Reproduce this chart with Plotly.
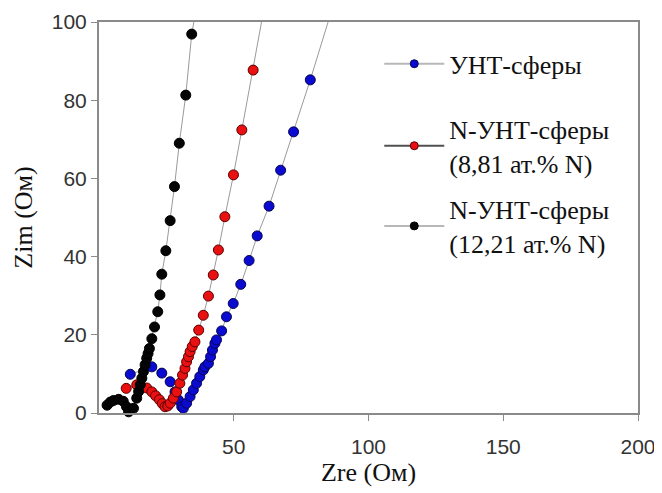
import plotly.graph_objects as go

# ---- data ----
blue_x = [11.6, 19.6, 23.3, 26.4, 28.2, 29.5, 30.7, 31.3, 32.5, 33.8, 35.0, 36.2, 37.4, 38.7,
          39.3, 40.6, 41.4, 42.1, 43.0, 43.6, 45.5, 47.3, 49.8, 52.6, 55.7, 58.7, 63.1, 67.4, 72.2, 78.4]
blue_y = [9.9, 11.8, 10.2, 8.0, 5.4, 3.3, 1.6, 1.2, 2.5, 4.2, 5.9, 7.6, 9.3, 11.0,
          11.8, 12.7, 14.4, 16.1, 17.8, 18.7, 21.0, 24.6, 28.0, 32.9, 39.0, 45.3, 52.9, 62.1, 71.9, 85.2]
blue_line_end = (85.0, 100.0)

red_x = [10.1, 14.0, 17.7, 19.6, 21.0, 22.4, 23.5, 24.5, 25.5, 26.4, 27.6, 28.8, 30.0, 31.0, 31.9,
         32.5, 33.2, 33.8, 34.6, 35.6, 37.0, 38.7, 40.6, 42.4, 44.3, 46.7, 49.9, 53.0, 57.2]
red_y = [6.3, 7.2, 6.4, 5.4, 4.4, 3.4, 2.4, 1.6, 1.8, 2.5, 3.8, 5.4, 7.6, 9.7, 11.4,
         13.1, 14.4, 15.7, 17.0, 18.2, 21.2, 25.0, 29.9, 35.3, 41.7, 50.2, 60.9, 72.4, 87.7]
red_line_end = (60.3, 100.0)

black_x = [3.0, 4.2, 5.4, 7.3, 9.0, 10.2, 11.0, 12.8, 14.0, 14.7, 15.3, 15.9, 16.5, 17.1, 17.7,
           18.2, 18.7, 19.6, 20.6, 21.8, 22.6, 23.3, 24.8, 26.4, 28.0, 29.8, 32.2, 34.4]
black_y = [2.0, 2.8, 3.2, 3.5, 3.0, 1.6, 0.3, 1.2, 3.8, 5.5, 7.2, 8.9, 10.6, 12.3, 14.0,
           15.2, 16.5, 19.0, 22.0, 25.9, 30.2, 35.5, 41.5, 49.2, 57.9, 69.0, 81.3, 96.9]
black_line_end = (35.2, 100.0)

names = ["УНТ-сферы", "N-УНТ-сферы<br>(8,81 ат.% N)", "N-УНТ-сферы<br>(12,21 ат.% N)"]

x_ticks = [50, 100, 150, 200]
y_ticks = [0, 20, 40, 60, 80, 100]

series = [
    (blue_x, blue_y, blue_line_end, "#0a0ad0", "#050550", "#b8b8b8"),
    (red_x, red_y, red_line_end, "#e81010", "#5a0000", "#505050"),
    (black_x, black_y, black_line_end, "#050505", "#000000", "#b8b8b8"),
]
legend_ids = ["legend", "legend2", "legend3"]
legend_y = [0.893, 0.683, 0.478]

fig = go.Figure()
for i, (xs, ys, end, fill, edge, lcol) in enumerate(series):
    fig.add_trace(go.Scatter(x=list(xs) + [end[0]], y=list(ys) + [end[1]], mode="lines",
                             line=dict(color="#9a9a9a", width=1), showlegend=False,
                             hoverinfo="skip", cliponaxis=False))
    fig.add_trace(go.Scatter(x=xs, y=ys, mode="markers",
                             marker=dict(size=10, color=fill, line=dict(color=edge, width=1)),
                             showlegend=False, cliponaxis=False))
    fig.add_trace(go.Scatter(x=[None], y=[None], mode="lines+markers", name=names[i],
                             line=dict(color=lcol, width=2),
                             marker=dict(size=8, color=fill, line=dict(color=edge, width=1)),
                             legend=legend_ids[i], showlegend=True))

serif = "Liberation Serif, Times New Roman, serif"
axis_common = dict(showline=True, linecolor="#8a8a8a", linewidth=2, mirror=True,
                   ticks="outside", ticklen=6, tickwidth=1, tickcolor="#8a8a8a",
                   showgrid=False, zeroline=False, automargin=False,
                   tickfont=dict(family="Liberation Sans, Arial", size=21, color="#333333"))

legend_common = dict(x=0.52, xanchor="left", yanchor="middle",
                     font=dict(family=serif, size=26, color="#111"),
                     itemwidth=60, bgcolor="rgba(255,255,255,0)", itemclick=False)

fig.update_layout(
    width=662, height=493,
    margin=dict(l=91, r=32, t=14, b=88),
    paper_bgcolor="white", plot_bgcolor="white",
    xaxis=dict(range=[0, 200], tickvals=x_ticks, ticklabelstandoff=8,
               title=dict(text="Zre (Ом)", font=dict(family=serif, size=26, color="#111"),
                          standoff=6),
               **axis_common),
    yaxis=dict(range=[0, 100], tickvals=y_ticks,
               title=dict(text="Zim (Ом)", font=dict(family=serif, size=26, color="#111"),
                          standoff=12),
               **axis_common),
    legend=dict(y=legend_y[0], **legend_common),
    legend2=dict(y=legend_y[1], **legend_common),
    legend3=dict(y=legend_y[2], **legend_common),
    showlegend=True,
)

fig.write_html("out.html")
